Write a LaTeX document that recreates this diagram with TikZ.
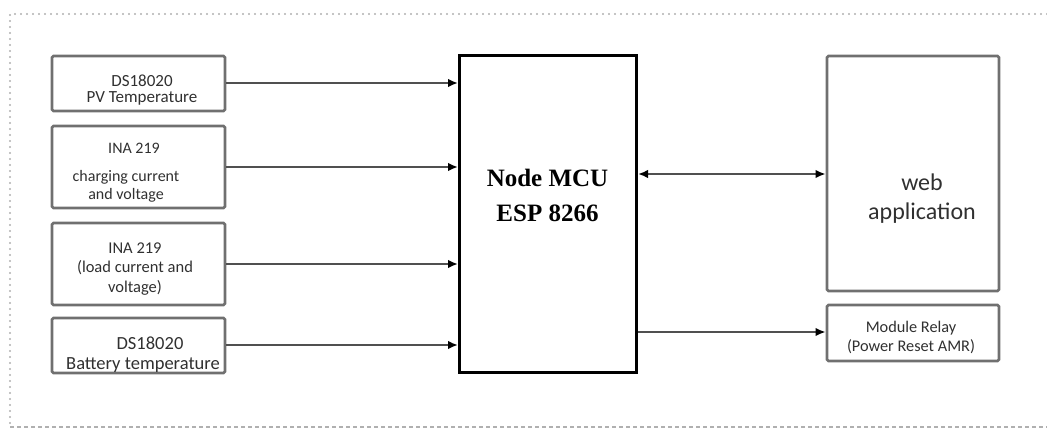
\documentclass[tikz,border=0pt]{standalone}
\usepackage{fontspec}
\setmainfont{Carlito}
\newfontfamily\mcufont{Liberation Serif}
\usetikzlibrary{arrows.meta}
\definecolor{boxgray}{HTML}{707070}
\definecolor{txtgray}{HTML}{303030}
\definecolor{linegray}{HTML}{505050}
\definecolor{framegray}{HTML}{B0B0B0}
\tikzset{
  box/.style={draw=boxgray, line width=2.6pt, rounded corners=1.5pt, inner sep=0pt},
  txt/.style={text=txtgray, align=center, inner sep=0pt},
  arr/.style={draw=linegray, line width=2.3pt, -{Latex[length=10pt,width=8.5pt,color=black]}},
  darr/.style={draw=linegray, line width=2.3pt, {Latex[length=10pt,width=8.5pt,color=black]}-{Latex[length=10pt,width=8.5pt,color=black]}},
}
\begin{document}
\begin{tikzpicture}[x=1pt,y=-1pt]
\useasboundingbox (0,0) rectangle (1047,428);
% frame
\draw[framegray, line width=2.4pt, line cap=round, dash pattern=on 0pt off 6pt] (1047,14) -- (10,14) -- (10,427);
\draw[framegray, line width=1.6pt, dash pattern=on 4pt off 3pt] (10,427) -- (1047,427);
% sensor boxes
\node[box, minimum width=173pt, minimum height=55pt] (b1) at (138.5,83.5) {};
\node[box, minimum width=173pt, minimum height=82pt] (b2) at (138.5,167) {};
\node[box, minimum width=173pt, minimum height=82pt] (b3) at (138.5,264) {};
\node[box, minimum width=173pt, minimum height=55pt] (b4) at (138.5,345.5) {};
% MCU
\node[draw=black, line width=3pt, minimum width=177pt, minimum height=316pt, inner sep=0pt] (mcu) at (548,214) {};
% right boxes
\node[box, minimum width=172pt, minimum height=235pt] (web) at (913,173.5) {};
\node[box, minimum width=172pt, minimum height=56pt] (relay) at (913,333) {};
% texts
\node[txt, font=\fontsize{17}{16.5}\selectfont] (t1) at (142,90) {DS18020\\PV Temperature};
\node[txt, font=\fontsize{16}{16}\selectfont] (t2a) at (134,148) {INA 219};
\node[txt, font=\fontsize{16}{18}\selectfont] (t2b) at (126,186) {charging current\\and voltage};
\node[txt, font=\fontsize{16.5}{19.5}\selectfont] (t3) at (135,269) {INA 219\\(load current and\\voltage)};
\node[txt, font=\fontsize{18.5}{22}\selectfont] (t4a) at (150,343) {DS18020};
\node[txt, font=\fontsize{18.5}{22}\selectfont] (t4b) at (143,365) {Battery temperature};
\node[font=\mcufont\bfseries\fontsize{25}{35}\selectfont, align=center, inner sep=0pt] (tm) at (547.5,195) {Node MCU\\ESP 8266};
\node[txt, font=\fontsize{24}{29}\selectfont] (tw) at (922,199) {web\\application};
\node[txt, font=\fontsize{16.3}{19}\selectfont] (tr) at (911,337.5) {Module Relay\\(Power Reset AMR)};
% connectors
\draw[arr] (b1.east |- 0,83) -- (mcu.west |- 0,83);
\draw[arr] (b2.east |- 0,167) -- (mcu.west |- 0,167);
\draw[arr] (b3.east |- 0,264) -- (mcu.west |- 0,264);
\draw[arr] (b4.east |- 0,345) -- (mcu.west |- 0,345);
\draw[darr] (mcu.east |- 0,174) -- (web.west |- 0,174);
\draw[arr] (mcu.east |- 0,332) -- (relay.west |- 0,332);
\end{tikzpicture}
\end{document}
